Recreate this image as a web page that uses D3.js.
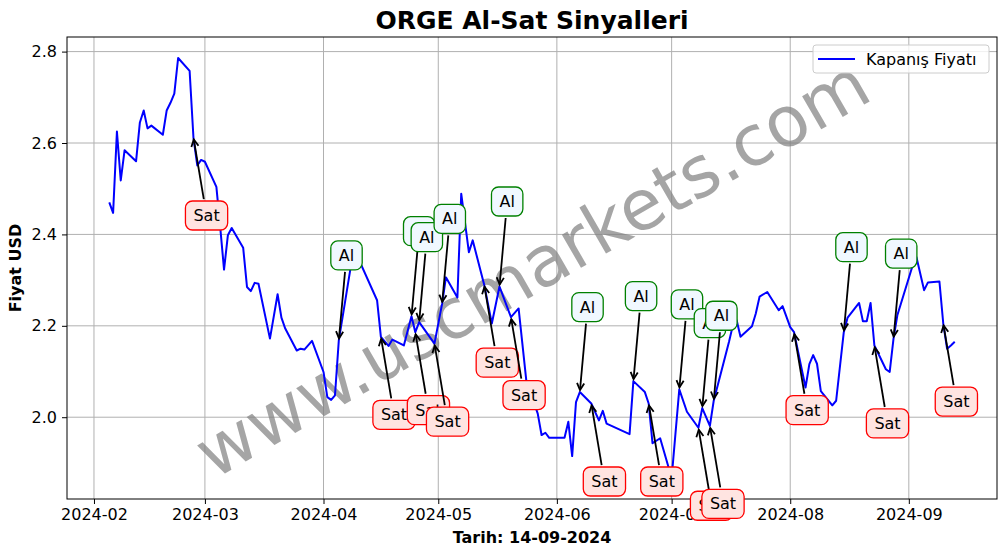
<!DOCTYPE html>
<html>
<head>
<meta charset="utf-8">
<script src="https://cdn.jsdelivr.net/npm/d3@7"></script>
<style>
  body { margin: 0; background: #fff; }
  text { font-family: "DejaVu Sans", sans-serif; }
</style>
</head>
<body>
<div id="chart"></div>
<script>
// closing prices
var dates = [
  "2024-02-05","2024-02-06","2024-02-07","2024-02-08","2024-02-09","2024-02-12","2024-02-13","2024-02-14",
  "2024-02-15","2024-02-16","2024-02-19","2024-02-20","2024-02-21","2024-02-22","2024-02-23","2024-02-26",
  "2024-02-27","2024-02-28","2024-02-29","2024-03-01","2024-03-04","2024-03-05","2024-03-06","2024-03-07",
  "2024-03-08","2024-03-11","2024-03-12","2024-03-13","2024-03-14","2024-03-15","2024-03-18","2024-03-20",
  "2024-03-21","2024-03-22","2024-03-25","2024-03-26","2024-03-27","2024-03-29","2024-04-01","2024-04-02",
  "2024-04-03","2024-04-04","2024-04-05","2024-04-08","2024-04-09","2024-04-15","2024-04-16","2024-04-18",
  "2024-04-19","2024-04-22","2024-04-24","2024-04-25","2024-04-26","2024-04-30","2024-05-02","2024-05-03",
  "2024-05-06","2024-05-07","2024-05-09","2024-05-10","2024-05-13","2024-05-15","2024-05-17","2024-05-20",
  "2024-05-22","2024-05-24","2024-05-27","2024-05-28","2024-05-29","2024-05-30","2024-05-31","2024-06-03",
  "2024-06-04","2024-06-05","2024-06-06","2024-06-07","2024-06-10","2024-06-12","2024-06-13","2024-06-14",
  "2024-06-20","2024-06-21","2024-06-24","2024-06-25","2024-06-26","2024-06-28","2024-07-01","2024-07-03",
  "2024-07-05","2024-07-08","2024-07-09","2024-07-11","2024-07-12","2024-07-16","2024-07-17","2024-07-18",
  "2024-07-19","2024-07-22","2024-07-23","2024-07-24","2024-07-26","2024-07-29","2024-07-30","2024-08-01",
  "2024-08-02","2024-08-05","2024-08-06","2024-08-07","2024-08-08","2024-08-09","2024-08-12","2024-08-13",
  "2024-08-15","2024-08-16","2024-08-19","2024-08-20","2024-08-21","2024-08-22","2024-08-23","2024-08-26",
  "2024-08-27","2024-08-28","2024-08-29","2024-09-02","2024-09-03","2024-09-05","2024-09-06","2024-09-09",
  "2024-09-10","2024-09-11","2024-09-12","2024-09-13"
];
var prices = [
  2.470, 2.447, 2.625, 2.518, 2.584, 2.560, 2.645, 2.671,
  2.632, 2.638, 2.618, 2.671, 2.688, 2.708, 2.786, 2.758,
  2.612, 2.551, 2.563, 2.559, 2.504, 2.416, 2.323, 2.398,
  2.414, 2.371, 2.285, 2.276, 2.294, 2.292, 2.172, 2.269,
  2.218, 2.194, 2.146, 2.150, 2.148, 2.167, 2.099, 2.044,
  2.038, 2.048, 2.168, 2.323, 2.368, 2.256, 2.176, 2.156,
  2.170, 2.157, 2.221, 2.186, 2.208, 2.161, 2.248, 2.306,
  2.262, 2.489, 2.361, 2.387, 2.290, 2.205, 2.286, 2.219,
  2.238, 2.081, 2.008, 1.961, 1.966, 1.955, 1.955, 1.955,
  1.990, 1.915, 2.033, 2.055, 2.030, 1.993, 2.014, 1.986,
  1.963, 2.079, 2.055, 2.030, 1.943, 1.954, 1.867, 2.061,
  2.012, 1.977, 2.020, 1.981, 2.036, 2.165, 2.201, 2.212,
  2.176, 2.199, 2.227, 2.264, 2.274, 2.234, 2.243, 2.197,
  2.186, 2.065, 2.116, 2.136, 2.117, 2.057, 2.026, 2.036,
  2.186, 2.218, 2.250, 2.210, 2.210, 2.250, 2.157, 2.105,
  2.099, 2.172, 2.223, 2.332, 2.350, 2.278, 2.295, 2.297,
  2.205, 2.150, 2.157, 2.165
];

// buy (Al) and sell (Sat) signal days
var buyDates = ["2024-04-05","2024-04-24","2024-04-26","2024-05-02","2024-05-17","2024-06-07",
                "2024-06-21","2024-07-03","2024-07-09","2024-07-12","2024-08-15","2024-08-28"];
var sellDates = ["2024-02-27","2024-04-16","2024-04-25","2024-04-30","2024-05-13","2024-05-20","2024-06-10",
                 "2024-06-25","2024-07-08","2024-07-11","2024-08-02","2024-08-23","2024-09-10"];

// tick labels
var xTicks = ["2024-02-01","2024-03-01","2024-04-01","2024-05-01","2024-06-01","2024-07-01","2024-08-01","2024-09-01"];
var yTicks = [2.0, 2.2, 2.4, 2.6, 2.8];

var parseDate = d3.utcParse("%Y-%m-%d");

var data = dates.map(function(d, i) {
    return {date: parseDate(d), price: prices[i]};
});

// set the dimensions and margins of the graph
var margin = {top: 37, right: 9, bottom: 55, left: 67},
    width = 1006 - margin.left - margin.right,
    height = 554 - margin.top - margin.bottom;

// scales with a 5% margin like matplotlib
var xExt = d3.extent(data, function(d) { return d.date; });
var xPad = (xExt[1] - xExt[0]) * 0.05;
var x = d3.scaleUtc()
    .domain([new Date(+xExt[0] - xPad), new Date(+xExt[1] + xPad)])
    .range([0, width]);

var yExt = d3.extent(data, function(d) { return d.price; });
var yPad = (yExt[1] - yExt[0]) * 0.05;
var y = d3.scaleLinear()
    .domain([yExt[0] - yPad, yExt[1] + yPad])
    .range([height, 0]);

var root = d3.select("#chart").append("svg")
    .attr("width", 1006)
    .attr("height", 554);

var svg = root.append("g")
    .attr("transform", "translate(" + margin.left + "," + margin.top + ")");

svg.append("clipPath").attr("id", "plotclip")
    .append("rect").attr("width", width).attr("height", height);

// grid
svg.append("g").selectAll("line")
    .data(xTicks.map(parseDate))
    .enter().append("line")
    .attr("x1", function(d) { return x(d); })
    .attr("x2", function(d) { return x(d); })
    .attr("y1", 0).attr("y2", height)
    .attr("stroke", "#b0b0b0").attr("stroke-width", 1);

svg.append("g").selectAll("line")
    .data(yTicks)
    .enter().append("line")
    .attr("x1", 0).attr("x2", width)
    .attr("y1", function(d) { return y(d); })
    .attr("y2", function(d) { return y(d); })
    .attr("stroke", "#b0b0b0").attr("stroke-width", 1);

// watermark
svg.append("text")
    .attr("transform", "translate(" + (width / 2) + "," + (height / 2) + ") rotate(-30)")
    .attr("text-anchor", "middle")
    .attr("dy", "0.35em")
    .style("font-size", "70px")
    .attr("fill", "#808080")
    .attr("opacity", 0.7)
    .text("www.uscmarkets.com");

// price line
var line = d3.line()
    .x(function(d) { return x(d.date); })
    .y(function(d) { return y(d.price); });

svg.append("path")
    .datum(data)
    .attr("clip-path", "url(#plotclip)")
    .attr("fill", "none")
    .attr("stroke", "#0000ff")
    .attr("stroke-width", 2)
    .attr("stroke-linejoin", "round")
    .attr("d", line);

// frame
svg.append("rect")
    .attr("width", width).attr("height", height)
    .attr("fill", "none").attr("stroke", "#000").attr("stroke-width", 1);

// axes
var xAxis = svg.append("g")
    .attr("transform", "translate(0," + height + ")")
    .call(d3.axisBottom(x)
        .tickValues(xTicks.map(parseDate))
        .tickFormat(d3.utcFormat("%Y-%m"))
        .tickSize(5).tickPadding(5));

var yAxis = svg.append("g")
    .call(d3.axisLeft(y)
        .tickValues(yTicks)
        .tickFormat(d3.format(".1f"))
        .tickSize(5).tickPadding(5));

[xAxis, yAxis].forEach(function(a) {
    a.select(".domain").remove();
    a.selectAll("text").style("font-size", "16px").style("font-family", "DejaVu Sans").attr("fill", "#000");
    a.selectAll("line").attr("stroke", "#000");
});

// annotations
function annotate(dateStr, label, offsetY, edge, face) {
    var d = parseDate(dateStr);
    var p = data.find(function(e) { return +e.date === +d; });
    var px = x(p.date), py = y(p.price);
    var g = svg.append("g");
    var arrow = g.append("g");
    var box = g.append("rect");
    var t = g.append("text")
        .attr("x", px)
        .attr("y", py + offsetY)
        .attr("dy", "0.35em")
        .style("font-size", "16px")
        .attr("fill", "#000")
        .text(label);
    var tw = t.node().getComputedTextLength();
    var padX = 8, bh = 29;
    var cx = px + tw / 2, cy = py + offsetY;
    var hw = tw / 2 + padX, hh = bh / 2;
    box.attr("x", cx - hw).attr("y", cy - hh)
        .attr("width", hw * 2).attr("height", bh)
        .attr("rx", 7).attr("ry", 7)
        .attr("fill", face).attr("stroke", edge).attr("stroke-width", 1.3);

    // arrow from the box edge to the point
    var dx = px - cx, dy = py - cy;
    var len = Math.sqrt(dx * dx + dy * dy);
    var ux = dx / len, uy = dy / len;
    var tEdge = Math.min(hw / Math.abs(dx || 1e-9), hh / Math.abs(dy || 1e-9));
    var sx = cx + dx * tEdge + ux * 2, sy = cy + dy * tEdge + uy * 2;
    var ex = px - ux * 2, ey = py - uy * 2;
    arrow.append("line")
        .attr("x1", sx).attr("y1", sy).attr("x2", ex).attr("y2", ey)
        .attr("stroke", "#000").attr("stroke-width", 1.8);
    var hl = 7, hwid = 3.6;
    var bx = ex - ux * hl, by = ey - uy * hl;
    arrow.append("path")
        .attr("d", "M" + (bx - uy * hwid) + "," + (by + ux * hwid) +
                   "L" + ex + "," + ey +
                   "L" + (bx + uy * hwid) + "," + (by - ux * hwid))
        .attr("fill", "none").attr("stroke", "#000").attr("stroke-width", 1.8);
}

buyDates.forEach(function(d) { annotate(d, "Al", -85, "#008000", "#f0f8ff"); });
sellDates.forEach(function(d) { annotate(d, "Sat", 78, "#ff0000", "#ffe4e1"); });

// legend
var leg = svg.append("g")
    .attr("transform", "translate(" + (width - 8 - 176) + ",8)");
leg.append("rect")
    .attr("width", 176).attr("height", 28)
    .attr("rx", 3).attr("ry", 3)
    .attr("fill", "#fff").attr("fill-opacity", 0.8)
    .attr("stroke", "#cccccc").attr("stroke-width", 1);
leg.append("line")
    .attr("x1", 5).attr("x2", 42).attr("y1", 14).attr("y2", 14)
    .attr("stroke", "#0000ff").attr("stroke-width", 2);
leg.append("text")
    .attr("x", 53).attr("y", 14).attr("dy", "0.35em")
    .style("font-size", "16px")
    .text("Kapanış Fiyatı");

// title and axis labels
root.append("text")
    .attr("x", margin.left + width / 2).attr("y", 29)
    .attr("text-anchor", "middle")
    .style("font-size", "25px").style("font-weight", "bold")
    .text("ORGE Al-Sat Sinyalleri");

root.append("text")
    .attr("x", margin.left + width / 2).attr("y", 543)
    .attr("text-anchor", "middle")
    .style("font-size", "16px").style("font-weight", "bold")
    .text("Tarih: 14-09-2024");

root.append("text")
    .attr("transform", "translate(21," + (margin.top + height / 2) + ") rotate(-90)")
    .attr("text-anchor", "middle")
    .style("font-size", "16px").style("font-weight", "bold")
    .text("Fiyat USD");
</script>
</body>
</html>
